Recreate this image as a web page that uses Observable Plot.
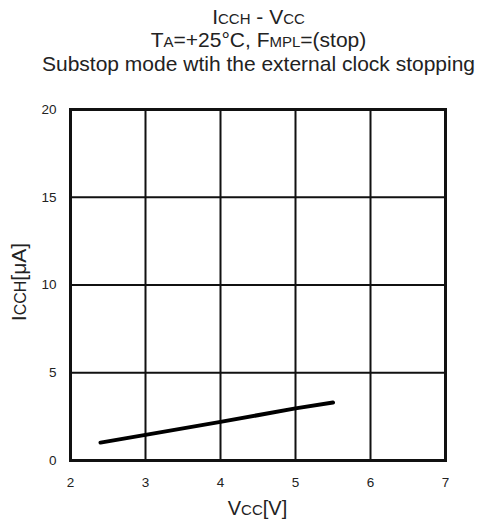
<!DOCTYPE html>
<html>
<head>
<meta charset="utf-8">
<script src="https://cdn.jsdelivr.net/npm/d3@7"></script>
<script src="https://cdn.jsdelivr.net/npm/@observablehq/plot@0.6"></script>
<style>
  html, body { margin: 0; padding: 0; background: #fff; }
  body { width: 479px; height: 525px; overflow: hidden; font-family: "Liberation Sans", Arial, sans-serif; color: #222; }
  #titles { position: relative; height: 88px; }
  #titles div { position: absolute; left: 0; width: 517px; text-align: center; font-size: 21px; line-height: 24px; white-space: nowrap; }
  .sc { font-size: 15px; }
</style>
</head>
<body>
<div id="titles">
  <div style="top:5px"><span>I</span><span class="sc">CCH</span> - V<span class="sc">CC</span></div>
  <div style="top:28px">T<span class="sc">A</span>=+25°C, F<span class="sc">MPL</span>=(stop)</div>
  <div style="top:52px">Substop mode wtih the external clock stopping</div>
</div>
<div id="chart"></div>
<script>
const vcc = [2.4, 3.0, 4.0, 5.0, 5.5];
const icch = [1.02, 1.46, 2.2, 2.97, 3.3];
const xTicks = [2, 3, 4, 5, 6, 7];
const yTicks = [0, 5, 10, 15, 20];

const data = vcc.map((v, i) => ({vcc: v, icch: icch[i]}));

const W = 479, H = 437;
const chart = Plot.plot({
  width: W,
  height: H,
  marginTop: 21,
  marginBottom: 65,
  marginLeft: 70,
  marginRight: 34,
  style: {fontFamily: '"Liberation Sans", Arial, sans-serif', fontSize: "13px", color: "#222", background: "#fff"},
  x: {domain: [2, 7], ticks: xTicks, label: null},
  y: {domain: [0, 20], ticks: yTicks, label: null},
  marks: [
    Plot.gridX(xTicks, {stroke: "#111", strokeOpacity: 1, strokeWidth: 2}),
    Plot.gridY(yTicks, {stroke: "#111", strokeOpacity: 1, strokeWidth: 2}),
    Plot.frame({stroke: "#111", strokeWidth: 3}),
    Plot.axisX(xTicks, {tickSize: 0, tickPadding: 17, fontSize: 13.5}),
    Plot.axisY(yTicks, {tickSize: 0, tickPadding: 14, fontSize: 13.5}),
    Plot.line(data, {x: "vcc", y: "icch", stroke: "#000", strokeWidth: 4, strokeLinecap: "round"})
  ]
});
document.getElementById("chart").appendChild(chart);

const svg = d3.select(chart);
const ff = '"Liberation Sans", Arial, sans-serif';
// X axis label: Vcc[V]
const xl = svg.append("text")
  .attr("x", 257.5).attr("y", 427)
  .attr("text-anchor", "middle")
  .attr("font-family", ff).attr("font-size", 20).attr("fill", "#222");
xl.append("tspan").text("V");
xl.append("tspan").attr("font-size", 15).text("CC");
xl.append("tspan").text("[V]");
// Y axis label: ICCH[μA]
const yl = svg.append("text")
  .attr("transform", `translate(26, ${282 - 88}) rotate(-90)`)
  .attr("text-anchor", "middle")
  .attr("font-family", ff).attr("font-size", 21).attr("fill", "#222");
yl.append("tspan").text("I");
yl.append("tspan").attr("font-size", 16).text("CCH");
yl.append("tspan").text("[μA]");
</script>
</body>
</html>
